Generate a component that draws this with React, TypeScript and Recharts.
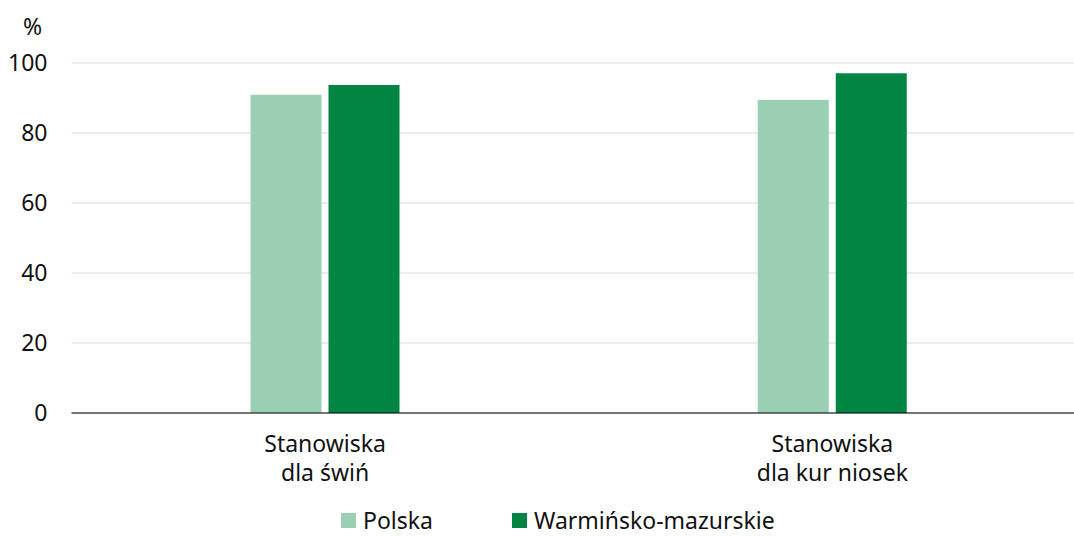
import { BarChart, Bar, XAxis, YAxis, CartesianGrid, Legend } from "recharts";

const categories = [
  ["Stanowiska", "dla świń"],
  ["Stanowiska", "dla kur niosek"],
];
const polska = [90.9, 89.4];
const warminsko = [93.7, 97.1];
const yTicks = [0, 20, 40, 60, 80, 100];

const seriesNames = { polska: "Polska", warm: "Warmińsko-mazurskie" };
const colors = { polska: "#9bcfb3", warm: "#008542" };

const data = categories.map((lines, i) => ({
  name: lines.join(" "),
  lines,
  polska: polska[i],
  warm: warminsko[i],
}));

const FONT = "'Noto Sans', sans-serif";
const FS = 23;

const CategoryTick = (props: any) => {
  const { x, y, payload } = props;
  const lines = data[payload.index]?.lines ?? [payload.value];
  return (
    <text x={x} y={y} textAnchor="middle" fill="#111" fontSize={FS} fontFamily={FONT}>
      {lines.map((l: string, i: number) => (
        <tspan key={i} x={x} dy={i === 0 ? 31 : 29}>
          {l}
        </tspan>
      ))}
    </text>
  );
};

const LegendContent = () => (
  <div
    style={{
      height: 32,
      display: "flex",
      alignItems: "center",
      fontFamily: FONT,
      fontSize: FS,
      color: "#111",
      paddingLeft: 341,
    }}
  >
    <span style={{ display: "inline-block", width: 15, height: 15, background: colors.polska, marginRight: 7 }} />
    <span style={{ marginRight: 79 }}>{seriesNames.polska}</span>
    <span style={{ display: "inline-block", width: 15, height: 15, background: colors.warm, marginRight: 7 }} />
    <span>{seriesNames.warm}</span>
  </div>
);

export default function App() {
  return (
    <div style={{ position: "absolute", left: 0, top: 0, width: 1074, height: 536, overflow: "hidden", background: "#fff" }}>
      <div style={{ position: "absolute", left: 23, top: 10, fontFamily: FONT, fontSize: FS, color: "#111" }}>%</div>
      <BarChart
        width={1086}
        height={536}
        data={data}
        margin={{ top: 63, right: 0, bottom: 0, left: 0 }}
        barCategoryGap={178}
        barGap={7}
      >
        <CartesianGrid vertical={false} stroke="#d9d9d9" />
        <XAxis
          dataKey="name"
          axisLine={{ stroke: "#000" }}
          tickLine={false}
          height={91}
          tick={<CategoryTick />}
          interval={0}
        />
        <YAxis
          domain={[0, 100]}
          ticks={yTicks}
          width={71.5}
          axisLine={false}
          tickLine={false}
          tickMargin={18}
          tick={{ fill: "#111", fontSize: FS, fontFamily: FONT }}
        />
        <Legend content={<LegendContent />} verticalAlign="bottom" />
        <Bar dataKey="polska" name={seriesNames.polska} fill={colors.polska} barSize={71} isAnimationActive={false} />
        <Bar dataKey="warm" name={seriesNames.warm} fill={colors.warm} barSize={71} isAnimationActive={false} />
      </BarChart>
    </div>
  );
}
